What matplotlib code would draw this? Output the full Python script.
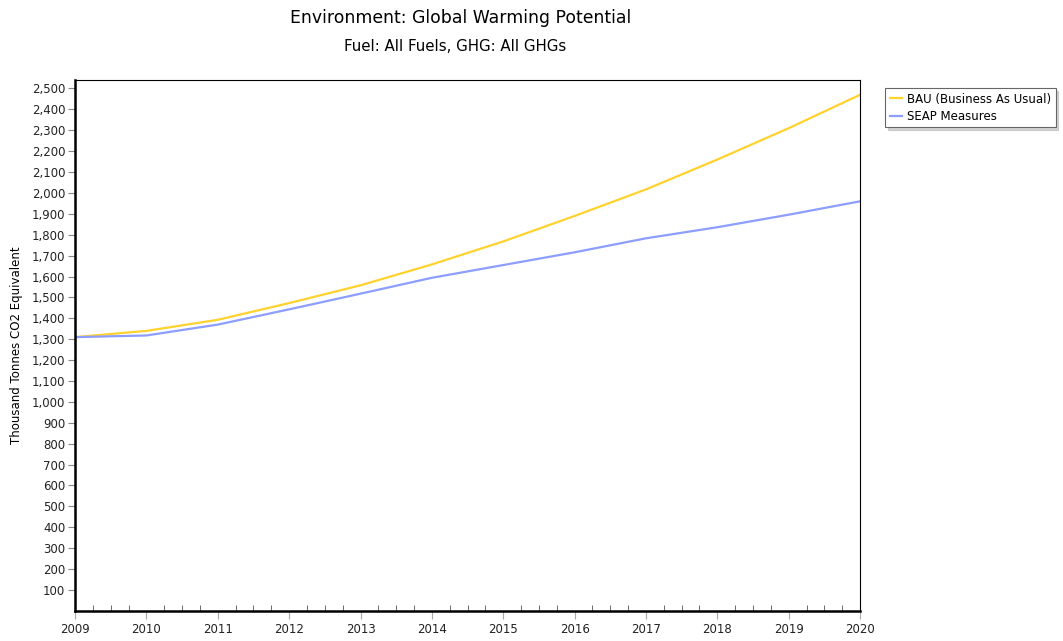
import matplotlib
matplotlib.use("Agg")
import matplotlib.pyplot as plt
from matplotlib.ticker import FuncFormatter, MultipleLocator

years = [2009, 2010, 2011, 2012, 2013, 2014, 2015, 2016, 2017, 2018, 2019, 2020]
bau = [1310, 1340, 1393, 1473, 1558, 1658, 1768, 1890, 2017, 2160, 2310, 2470]
seap = [1310, 1318, 1370, 1443, 1518, 1594, 1655, 1716, 1783, 1836, 1896, 1960]

plt.rcParams["font.family"] = ["DejaVu Sans"]
plt.rcParams["font.size"] = 8.5

fig = plt.figure(figsize=(10.63, 6.41), dpi=100)
ax = fig.add_axes([0.0706, 0.047, 0.7385, 0.828])

ax.plot(years, bau, color="#FFD22E", lw=1.6, label="BAU (Business As Usual)")
ax.plot(years, seap, color="#8C9EFF", lw=1.6, label="SEAP Measures")

ax.set_xlim(2009, 2020)
ax.set_ylim(0, 2540)
ax.set_xticks(years)
ax.xaxis.set_minor_locator(MultipleLocator(0.25))
ax.set_yticks(range(100, 2600, 100))
ax.yaxis.set_major_formatter(FuncFormatter(lambda v, p: f"{int(v):,}"))

ax.tick_params(axis="y", direction="out", length=5, color="#888888", labelsize=8.5, pad=2, labelcolor="#222222")
ax.tick_params(axis="x", which="major", direction="out", length=6, color="#AAAAAA", labelsize=8.5, pad=3, labelcolor="#222222")
ax.tick_params(axis="x", which="minor", direction="in", length=4, color="#555555")
ax.tick_params(axis="y", which="minor", left=False)

for side in ["left", "bottom"]:
    ax.spines[side].set_linewidth(1.8)
for side in ["top", "right"]:
    ax.spines[side].set_linewidth(0.8)

ax.set_ylabel("Thousand Tonnes CO2 Equivalent", fontsize=8.5, labelpad=6)

fig.text(0.433, 0.972, "Environment: Global Warming Potential", ha="center", va="center", fontsize=12.4)
fig.text(0.428, 0.928, "Fuel: All Fuels, GHG: All GHGs", ha="center", va="center", fontsize=10.8)

leg = fig.legend(loc="upper left", bbox_to_anchor=(0.833, 0.863), frameon=True, fancybox=False,
                 shadow={"color": "#aaaaaa", "ox": 2, "oy": -2}, handlelength=1.0, handletextpad=0.4,
                 borderpad=0.4, labelspacing=0.35, fontsize=8.5, borderaxespad=0)
leg.get_frame().set_edgecolor("#666666")
leg.get_frame().set_linewidth(0.8)

fig.savefig("out.png", dpi=100)
